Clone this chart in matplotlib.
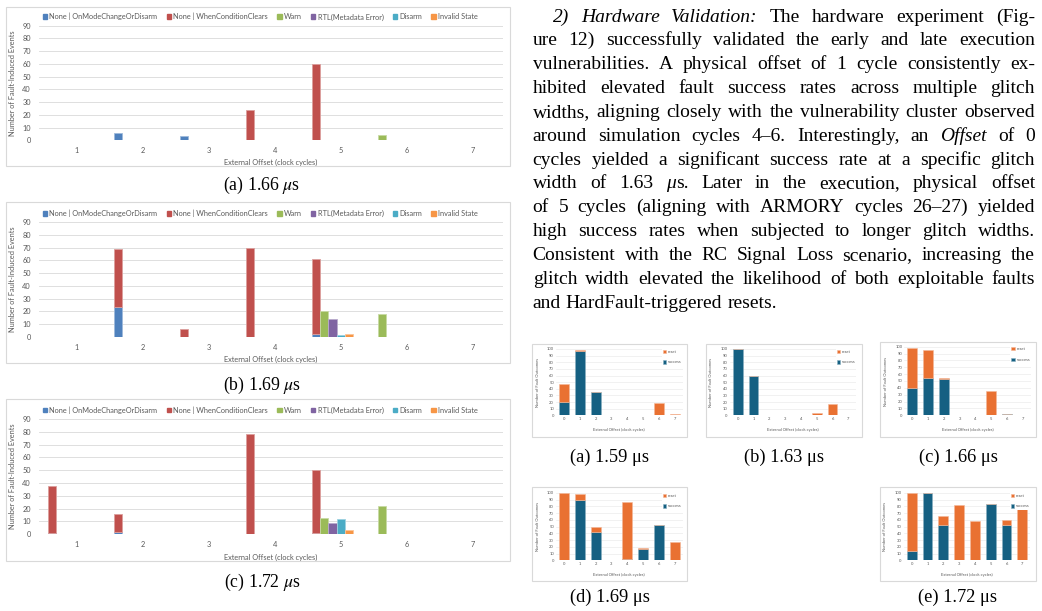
import numpy as np
import matplotlib
matplotlib.use('Agg')
import matplotlib.pyplot as plt
from matplotlib.patches import Rectangle, Patch
from matplotlib.colors import to_rgb

# ---------------- data ----------------
# simulation charts (left): each bar piece = (offset, sub-slot, series, count)
sim_series = ['None | OnModeChangeOrDisarm', 'None | WhenConditionClears', 'Warn',
              'RTL(Metadata Error)', 'Disarm', 'Invalid State']
sim_colors = ['#4F81BD', '#C0504D', '#9BBB59', '#8064A2', '#4BACC6', '#F79646']
sim_ticks = [1, 2, 3, 4, 5, 6, 7]

sim166_offset = [2, 3, 4, 5, 6]
sim166_slot = [0, 0, 0, 0, 0]
sim166_series = [0, 0, 1, 1, 2]
sim166_count = [6, 3, 24, 60, 4]

sim169_offset = [2, 2, 3, 4, 5, 5, 5, 5, 5, 5, 6]
sim169_slot = [0, 0, 0, 0, 0, 0, 1, 2, 3, 4, 0]
sim169_series = [0, 1, 1, 1, 0, 1, 2, 3, 4, 5, 2]
sim169_count = [23, 46, 6, 70, 2, 59, 20, 14, 1, 2, 18]

sim172_offset = [1, 1, 2, 2, 4, 5, 5, 5, 5, 5, 5, 6]
sim172_slot = [0, 0, 0, 0, 0, 0, 0, 1, 2, 3, 4, 0]
sim172_series = [0, 1, 0, 1, 1, 0, 1, 2, 3, 4, 5, 2]
sim172_count = [1, 37, 2, 14, 78, 1, 49, 13, 9, 12, 3, 22]

# hardware charts (right)
hw_offsets = [0, 1, 2, 3, 4, 5, 6, 7]
hw159_success = [20, 97, 35, 0, 0, 0, 0, 0]
hw159_reset = [27, 1, 0, 0, 0, 0, 19, 2]
hw163_success = [100, 60, 0, 0, 0, 0, 0, 0]
hw163_reset = [0, 0, 0, 0, 0, 4, 17, 0]
hw166_success = [40, 54, 53, 0, 0, 0, 2, 0]
hw166_reset = [58, 41, 1, 0, 0, 36, 0, 0]
hw169_success = [1, 90, 42, 0, 2, 17, 52, 0]
hw169_reset = [99, 8, 8, 0, 84, 1, 0, 27]
hw172_success = [14, 100, 52, 0, 0, 83, 52, 0]
hw172_reset = [86, 0, 14, 82, 59, 0, 8, 76]
hw_colors = {'success': '#156082', 'reset': '#E97132'}

para_lines = [
    "*2)* *Hardware* *Validation:* The hardware experiment (Fig-",
    "ure 12) successfully validated the early and late execution",
    "vulnerabilities. A physical offset of 1 cycle consistently ex-",
    "hibited elevated fault success rates across multiple glitch",
    "widths, aligning closely with the vulnerability cluster observed",
    "around simulation cycles 4–6. Interestingly, an *Offset* of 0",
    "cycles yielded a significant success rate at a specific glitch",
    "width of 1.63 *μ*s. Later in the execution, physical offset",
    "of 5 cycles (aligning with ARMORY cycles 26–27) yielded",
    "high success rates when subjected to longer glitch widths.",
    "Consistent with the RC Signal Loss scenario, increasing the",
    "glitch width elevated the likelihood of both exploitable faults",
    "and HardFault-triggered resets.",
]

# ---------------- figure ----------------
W, H = 1042, 611
plt.rcParams['font.family'] = ['Lato', 'DejaVu Sans']
plt.rcParams['mathtext.fontset'] = 'stix'
fig = plt.figure(figsize=(W / 100, H / 100), dpi=100)
GREY = '#595959'
GRID = '#D9D9D9'
SERIF = ['Liberation Serif', 'DejaVu Serif']


def px_rect(x0, y0, x1, y1):
    return [x0 / W, 1 - y1 / H, (x1 - x0) / W, (y1 - y0) / H]


def lighten(c, f=0.45):
    r, g, b = to_rgb(c)
    return (r + (1 - r) * f, g + (1 - g) * f, b + (1 - b) * f)


def box(x0, y0, x1, y1):
    fig.add_artist(Rectangle((x0 / W, 1 - y1 / H), (x1 - x0) / W, (y1 - y0) / H,
                             transform=fig.transFigure, fill=False, ec=GRID, lw=0.8))


def sim_chart(ax_px, box_px, offset, slot, series, count):
    box(*box_px)
    ax = fig.add_axes(px_rect(*ax_px))
    sub_w = 0.126
    tops = {}
    for o, s, k, c in zip(offset, slot, series, count):
        b = tops.get((o, s), 0)
        ax.bar(o + (s - 3) * sub_w, c, width=sub_w, bottom=b, color=sim_colors[k],
               edgecolor=lighten(sim_colors[k]), lw=0.6, zorder=3)
        tops[(o, s)] = b + c
    ax.set_xlim(0.43, 7.45)
    ax.set_ylim(0, 90)
    ax.set_yticks(range(0, 91, 10))
    ax.set_xticks(sim_ticks)
    ax.yaxis.grid(True, color=GRID, lw=0.6)
    ax.set_axisbelow(True)
    for sp in ax.spines.values():
        sp.set_visible(False)
    ax.tick_params(length=0, labelsize=5.3, labelcolor=GREY)
    ax.tick_params(axis='x', pad=5)
    ax.tick_params(axis='y', pad=6)
    ax.set_xlabel('External Offset (clock cycles)', fontsize=5.3, color=GREY)
    ax.xaxis.set_label_coords(0.5, -0.165)
    ax.set_ylabel('Number of Fault-Induced Events', fontsize=5.3, color=GREY)
    ax.yaxis.set_label_coords(-0.05, 0.5)
    handles = [Patch(color=c) for c in sim_colors]
    ax.legend(handles, sim_series, loc='lower center', bbox_to_anchor=(0.477, 1.0),
              ncol=6, frameon=False, fontsize=5.3, labelcolor=GREY, handlelength=0.6,
              handleheight=0.6, handletextpad=0.3, columnspacing=1.25, borderaxespad=0.3)
    return ax


def hw_chart(ax_px, box_px, success, reset):
    box(*box_px)
    ax = fig.add_axes(px_rect(*ax_px))
    ax.bar(hw_offsets, success, width=0.63, color=hw_colors['success'],
           edgecolor=lighten(hw_colors['success'], 0.5), lw=0.4, zorder=3, label='success')
    ax.bar(hw_offsets, reset, width=0.63, bottom=success, color=hw_colors['reset'],
           edgecolor=lighten(hw_colors['reset'], 0.5), lw=0.4, zorder=3, label='reset')
    ax.set_xlim(-0.5, 7.5)
    ax.set_ylim(0, 100)
    ax.set_yticks(range(0, 101, 10))
    ax.set_xticks(hw_offsets)
    ax.yaxis.grid(True, color='#E6E6E6', lw=0.4)
    ax.set_axisbelow(True)
    for sp in ax.spines.values():
        sp.set_visible(False)
    ax.tick_params(length=0, labelsize=3.0, labelcolor=GREY, pad=1.5)
    ax.set_xlabel('External Offset (clock cycles)', fontsize=3.0, color=GREY)
    ax.xaxis.set_label_coords(0.5, -0.19)
    ax.set_ylabel('Number of Fault Outcomes', fontsize=3.0, color=GREY)
    ax.yaxis.set_label_coords(-0.13, 0.5)
    h, l = ax.get_legend_handles_labels()
    ax.legend(h[::-1], l[::-1], loc='upper left', bbox_to_anchor=(0.82, 1.04),
              fontsize=3.0, labelcolor=GREY, handlelength=0.8, handleheight=0.8,
              handletextpad=0.4, labelspacing=1.6, frameon=True, facecolor='white',
              edgecolor='none', framealpha=1, borderpad=0.3)
    return ax


# left: simulation charts
sim_chart((39.3, 25.7, 502.7, 140.3), (6, 7, 510, 166),
          sim166_offset, sim166_slot, sim166_series, sim166_count)
sim_chart((39.3, 222.3, 502.7, 336.7), (6, 202, 510, 363),
          sim169_offset, sim169_slot, sim169_series, sim169_count)
sim_chart((39.3, 419.0, 502.7, 534.3), (6, 399, 510, 561),
          sim172_offset, sim172_slot, sim172_series, sim172_count)

for txt, y in [('(a) 1.66 $\\mu$s', 185), ('(b) 1.69 $\\mu$s', 385), ('(c) 1.72 $\\mu$s', 582)]:
    fig.text(262 / W, 1 - y / H, txt, ha='center', va='center', fontsize=12.8, family=SERIF)

# right: hardware charts
hw_chart((556.1, 349.0, 682.5, 415.3), (532, 344, 687, 437), hw159_success, hw159_reset)
hw_chart((729.8, 349.0, 856.2, 415.3), (706, 344, 862, 437), hw163_success, hw163_reset)
hw_chart((904.4, 346.7, 1030.8, 415.3), (880, 342, 1036, 437), hw166_success, hw166_reset)
hw_chart((556.1, 493.0, 682.5, 560.3), (532, 487, 687, 581), hw169_success, hw169_reset)
hw_chart((903.8, 493.0, 1030.2, 560.3), (880, 487, 1036, 581), hw172_success, hw172_reset)

for txt, x, y in [('(a) 1.59 μs', 610, 457), ('(b) 1.63 μs', 784, 457), ('(c) 1.66 μs', 958, 457),
                  ('(d) 1.69 μs', 610, 597), ('(e) 1.72 μs', 958, 597)]:
    fig.text(x / W, 1 - y / H, txt, ha='center', va='center', fontsize=13.2, family=SERIF)

# paragraph, justified word by word
renderer = fig.canvas.get_renderer()
left, right, indent = 532.7, 1035.0, 552.7
base0, step = 21.5, 23.85
fs = 14
space_w = None
for i, line in enumerate(para_lines):
    words = []
    for w in line.split(' '):
        parts = w.split('*')
        segs = []
        for j, p in enumerate(parts):
            if p:
                t = fig.text(0, 0, p, fontsize=fs, family=SERIF,
                             style='italic' if j % 2 else 'normal', va='baseline')
                segs.append((t, t.get_window_extent(renderer).width))
        words.append(segs)
    if space_w is None:
        a = fig.text(0, 0, 'a a', fontsize=fs, family=SERIF)
        b = fig.text(0, 0, 'aa', fontsize=fs, family=SERIF)
        space_w = a.get_window_extent(renderer).width - b.get_window_extent(renderer).width
        a.remove()
        b.remove()
    x0 = indent if i == 0 else left
    widths = [sum(wd for _, wd in segs) for segs in words]
    if i < len(para_lines) - 1:
        gap = (right - x0 - sum(widths)) / (len(words) - 1)
    else:
        gap = space_w
    x = x0
    y = base0 + i * step
    for segs, wd in zip(words, widths):
        xx = x
        for t, sw in segs:
            t.set_position((xx / W, 1 - y / H))
            xx += sw
        x += wd + gap

fig.savefig('out.png', dpi=100)
